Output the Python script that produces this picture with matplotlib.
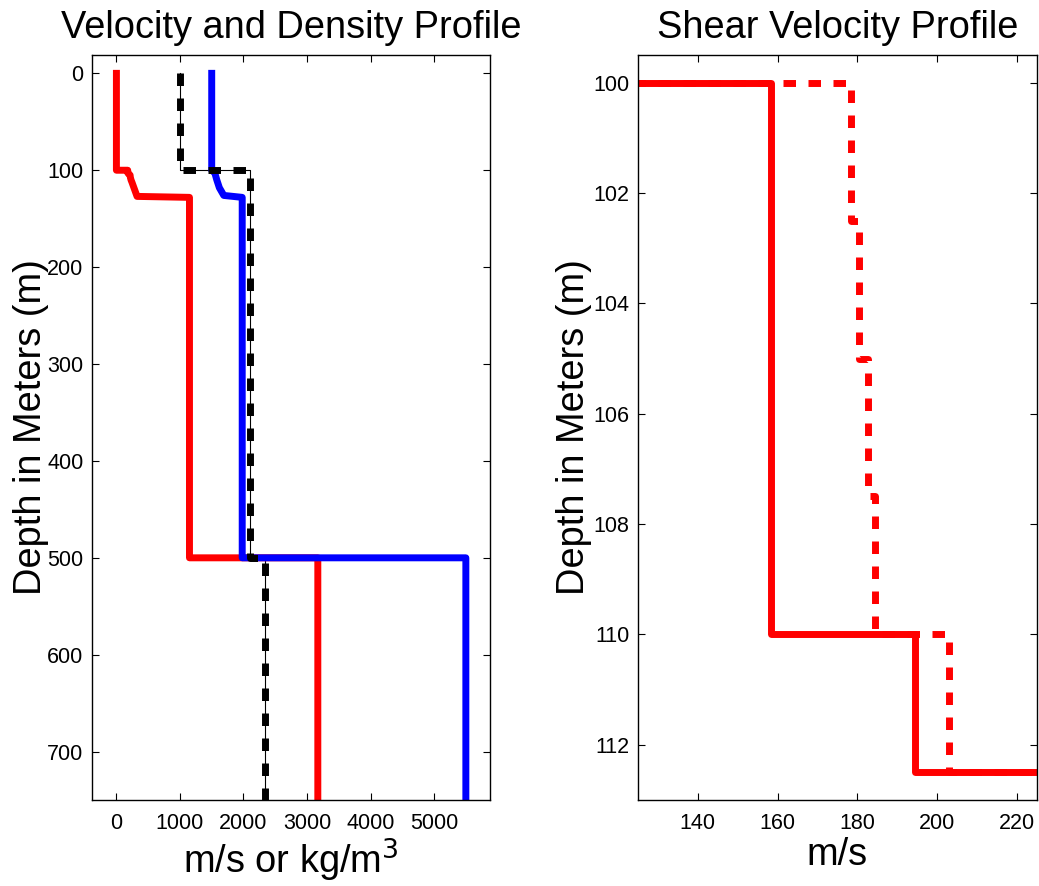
import numpy as np
import matplotlib
matplotlib.use("Agg")
import matplotlib.pyplot as plt

# ---------- DADOS ----------------
# perfil de velocidade de cisalhamento (esquerda, vermelho)
VS_DEPTH = [0, 100, 100, 103, 105, 107.5, 110, 112.5, 127, 128, 500, 500, 750]
VS_VAL   = [0, 0, 178, 180.5, 215, 220, 230, 245, 325, 1150, 1150, 3170, 3170]

# velocidade P (azul)
VP_DEPTH = [0, 100, 103, 110, 118, 126, 128, 500, 500, 750]
VP_VAL   = [1500, 1500, 1550, 1580, 1620, 1690, 1980, 1980, 5500, 5500]

# densidade (preto)
RHO_DEPTH = [0, 100, 100, 500, 500, 750]
RHO_VAL   = [1000, 1000, 2100, 2100, 2340, 2340]

# painel direito: Vs entre 100 e 112.5 m
VS1_DEPTH = [99, 100, 100, 110, 110, 112.5, 112.5]
VS1_VAL   = [0, 0, 158.3, 158.3, 194.4, 194.4, 260]
VS2_DEPTH = [99, 100, 100, 102.5, 102.5, 105, 105, 107.5, 107.5, 110, 110, 112.5, 112.5]
VS2_VAL   = [0, 0, 178.5, 178.5, 180.5, 180.5, 182.7, 182.7, 184.5, 184.5, 203, 203, 260]

# ---------- ESTILO ---------------
plt.rcParams.update({"font.family": "Liberation Sans", "font.size": 15,
                     "xtick.direction": "in", "ytick.direction": "in",
                     "xtick.top": True, "ytick.right": True,
                     "xtick.major.size": 5, "ytick.major.size": 5,
                     "axes.linewidth": 1.0})
LW = 5
DASH = (1.8, 1.8)
FS = 27.4

fig = plt.figure(figsize=(10.39, 8.86), dpi=100)
ax1 = fig.add_axes([0.0885, 0.097, 0.3831, 0.841])
ax2 = fig.add_axes([0.614, 0.097, 0.3838, 0.841])

# ---------- ESQUERDA -------------
ax1.plot(RHO_VAL, RHO_DEPTH, color="k", lw=0.8)
ax1.plot(VS_VAL, VS_DEPTH, color="#ff0000", lw=LW, solid_joinstyle="round")
ax1.plot(VP_VAL, VP_DEPTH, color="#0000ff", lw=LW, solid_joinstyle="round")
ax1.plot(RHO_VAL, RHO_DEPTH, color="k", lw=LW, ls=(0, DASH), dash_capstyle="butt")
ax1.set_xlim(-385, 5880)
ax1.set_ylim(750, -19)
ax1.set_xticks(np.arange(0, 5001, 1000))
ax1.set_yticks(np.arange(0, 701, 100))
ax1.set_title("Velocity and Density Profile", fontsize=FS, pad=12)
ax1.set_xlabel("m/s or kg/m$^3$", fontsize=FS)
ax1.set_ylabel("Depth in Meters (m)", fontsize=FS)
ax1.yaxis.set_label_coords(-0.108, 0.5)

# ---------- DIREITA --------------
ax2.plot(VS2_VAL, VS2_DEPTH, color="#ff0000", lw=LW, ls=(0, DASH), dash_capstyle="butt")
ax2.plot(VS1_VAL, VS1_DEPTH, color="#ff0000", lw=LW, solid_joinstyle="round")
ax2.set_xlim(125, 225)
ax2.set_ylim(113, 99.5)
ax2.set_xticks(np.arange(140, 221, 20))
ax2.set_yticks(np.arange(100, 113, 2))
ax2.set_title("Shear Velocity Profile", fontsize=FS, pad=12)
ax2.set_xlabel("m/s", fontsize=FS)
ax2.set_ylabel("Depth in Meters (m)", fontsize=FS)
ax2.yaxis.set_label_coords(-0.115, 0.5)

for ax in (ax1, ax2):
    ax.tick_params(axis="x", labelsize=15.5, pad=9)
    ax.tick_params(axis="y", labelsize=15.5, pad=6)
    ax.xaxis.set_label_coords(0.5, -0.05)

fig.savefig("out.png", dpi=100)
